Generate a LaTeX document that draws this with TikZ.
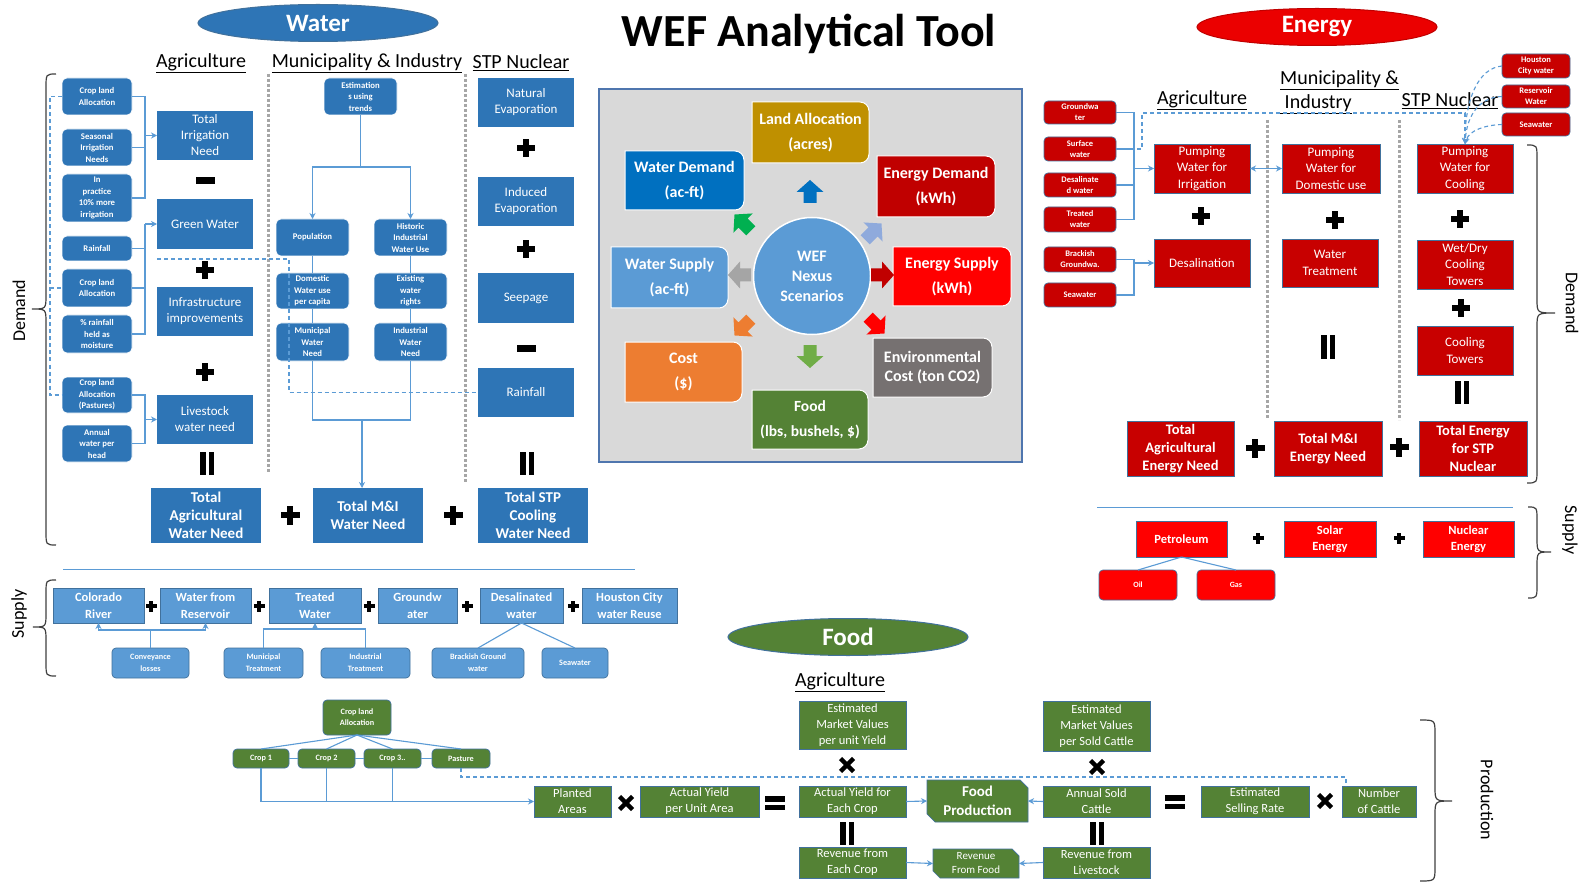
\documentclass[tikz,border=0pt]{standalone}
\usepackage{fontspec}
\setmainfont{Carlito}
\usetikzlibrary{shapes.geometric,arrows.meta,calc}
\definecolor{wblue}{HTML}{2E75B6}
\definecolor{wlight}{HTML}{5B9BD5}
\definecolor{bord}{HTML}{41719C}
\definecolor{edark}{HTML}{C80000}
\definecolor{ered}{HTML}{FF0000}
\definecolor{cgreen}{HTML}{548235}
\definecolor{lnblue}{HTML}{5B9BD5}
\definecolor{dotgray}{HTML}{A6A6A6}
\definecolor{bracegray}{HTML}{404040}
\definecolor{wefgray}{HTML}{D9D9D9}
\definecolor{wefborder}{HTML}{4F76AE}
\definecolor{cgold}{HTML}{BF9000}
\definecolor{cwd}{HTML}{0070C0}
\definecolor{ced}{HTML}{C00000}
\definecolor{corange}{HTML}{ED7D31}
\definecolor{cenv}{HTML}{767171}
\definecolor{cgrn}{HTML}{00B050}
\definecolor{clblue}{HTML}{8FAADC}
\definecolor{cgray}{HTML}{A5A5A5}
\definecolor{clgreen}{HTML}{70AD47}
\newcommand\fsz[2]{\fontsize{#1}{#2}\selectfont}
\newcommand\mybox[7]{\node[#1, minimum width={(#5)-(#3)}, minimum height={(#6)-(#4)}] (#2) at ({(#3+#5)/2},{(#4+#6)/2}) {#7};}
\newcommand\wefbox[8]{%
  \filldraw[fill=#6, draw=white, line width=1pt] (#2,#3) -- ({#4-9},#3) arc[start angle=270, end angle=360, radius=9] -- (#4,{#5-9}) arc[start angle=0, end angle=90, radius=9] -- (#2,#5) -- cycle;
  \mybox{bxbase, font=\bfseries#8}{#1}{#2}{#3}{#4}{#5}{#7}}
\newcommand\barrow[4]{\fill[#4, shift={(#1,#2)}, rotate=#3] (-11,-6.5) -- (0,-6.5) -- (0,-13.5) -- (12,0) -- (0,13.5) -- (0,6.5) -- (-11,6.5) -- cycle;}
\newcommand\opplus[3]{\fill[black] ({#1-#3},{#2-#3*0.34}) rectangle ({#1+#3},{#2+#3*0.34}); \fill[black] ({#1-#3*0.34},{#2-#3}) rectangle ({#1+#3*0.34},{#2+#3});}
\newcommand\opminus[2]{\fill[black] ({#1-9.5},{#2-3.5}) rectangle ({#1+9.5},{#2+3.5});}
\newcommand\oppar[2]{\fill[black] ({#1-7},{#2-11.5}) rectangle ({#1-1.5},{#2+11.5}); \fill[black] ({#1+1.5},{#2-11.5}) rectangle ({#1+7},{#2+11.5});}
\newcommand\opeq[2]{\fill[black] ({#1-10},{#2-7}) rectangle ({#1+10},{#2-1.5}); \fill[black] ({#1-10},{#2+1.5}) rectangle ({#1+10},{#2+7});}
\newcommand\optimes[2]{\draw[black, line width=4.5pt] ({#1-6.5},{#2-6.5}) -- ({#1+6.5},{#2+6.5}) ({#1-6.5},{#2+6.5}) -- ({#1+6.5},{#2-6.5});}
\newcommand\vbrace[6]{\draw[brc] (#1,#4) .. controls (#2,#4) .. (#2,{#4+14}) -- (#2,{#5-14}) .. controls (#2,#5) .. (#3,#5) .. controls (#2,#5) .. (#2,{#5+14}) -- (#2,{#6-14}) .. controls (#2,#6) .. (#1,#6);}
\tikzset{
 bxbase/.style={text=white, align=center, inner sep=0pt, outer sep=0pt, rectangle},
 wsm/.style={bxbase, rounded corners=5pt, fill=wblue, draw=white, line width=0.6pt, font=\bfseries\fsz{8.7}{11.5}},
 wmd/.style={bxbase, fill=wblue, font=\fsz{13}{16}},
 wtot/.style={bxbase, fill=wblue, font=\bfseries\fsz{15}{18}},
 wsup/.style={bxbase, fill=wlight, draw=bord, line width=0.7pt, font=\bfseries\fsz{12.5}{17}},
 wsupsm/.style={bxbase, rounded corners=4pt, fill=wlight, draw=bord, line width=0.7pt, font=\bfseries\fsz{8.2}{12}},
 esm/.style={bxbase, rounded corners=4pt, fill=edark, draw=bord, line width=0.7pt, font=\bfseries\fsz{8.5}{11}},
 emd/.style={bxbase, fill=edark, draw=bord, line width=0.7pt, font=\fsz{13}{16.5}},
 etot/.style={bxbase, fill=edark, draw=bord, line width=0.7pt, font=\bfseries\fsz{14.5}{18}},
 esup/.style={bxbase, fill=ered, draw=bord, line width=0.7pt, font=\bfseries\fsz{12.5}{16}},
 esupsm/.style={bxbase, rounded corners=4pt, fill=ered, draw=bord, line width=0.7pt, font=\bfseries\fsz{8}{10}},
 fsm/.style={bxbase, rounded corners=4pt, fill=cgreen, draw=bord, line width=0.7pt, font=\bfseries\fsz{8.2}{11}},
 fmd/.style={bxbase, fill=cgreen, draw=bord, line width=0.7pt, font=\fsz{12.5}{16}},
 hdr/.style={font=\fsz{20}{24}, inner sep=0pt},
 lbl/.style={font=\fsz{18}{20}, inner sep=0pt},
 conn/.style={draw=lnblue, line width=1.1pt},
 arr/.style={conn, -{Stealth[length=6pt,width=6pt]}},
 dconn/.style={draw=lnblue, line width=1.1pt, dash pattern=on 4pt off 3pt},
 dotl/.style={draw=dotgray, line width=3pt, dash pattern=on 3pt off 2pt},
 brc/.style={draw=bracegray, line width=1.2pt},
 ell/.style={ellipse, minimum width=240pt, minimum height=37pt, inner sep=0pt, text=white, font=\bfseries\fsz{25}{28}, line width=1pt},
}
\begin{document}
\begin{tikzpicture}[x=1pt,y=-1pt]
\useasboundingbox (0,0) rectangle (1585,885);
\fill[white] (0,0) rectangle (1585,885);

% ---------- titles ----------
\node[font=\bfseries\fsz{46}{50}, inner sep=0pt] (title) at (809,34) {WEF Analytical Tool};
\node[ell, fill=wblue, draw=bord] (wat) at (318,23) {Water};
\node[ell, fill=ered!92!black, draw=ced] (ene) at (1317,27) {Energy};
\node[ell, fill=cgreen, draw=bord] (foo) at (848,637) {Food};

% ---------- WATER demand ----------
\node[hdr] (h1) at (201,63) {\underline{Agriculture}};
\node[hdr] (h2) at (367,63) {\underline{Municipality \& Industry}};
\node[hdr] (h3) at (521,63) {\underline{STP Nuclear}};

\draw[dotl] (268,74) -- (268,473);
\draw[dotl] (465,74) -- (465,483);

\mybox{wsm}{cla1}{62}{78}{132}{115}{Crop land\\Allocation}
\mybox{wsm}{sin}{62}{129}{132}{166}{Seasonal\\Irrigation\\Needs}
\mybox{wsm}{ipr}{62}{174}{132}{222}{In\\practice\\10\% more\\irrigation}
\mybox{wsm}{rnf}{62}{236}{132}{261}{Rainfall}
\mybox{wsm}{cla2}{62}{269}{132}{307}{Crop land\\Allocation}
\mybox{wsm}{rhm}{62}{315}{132}{353}{\% rainfall\\held as\\moisture}
\mybox{wsm}{clp}{62}{377}{132}{413}{Crop land\\Allocation\\(Pastures)}
\mybox{wsm}{awh}{62}{425}{132}{462}{Annual\\water per\\head}
\mybox{wmd}{tin}{157}{111}{253}{160}{Total\\Irrigation\\Need}
\mybox{wmd}{gw}{157}{199}{253}{249}{Green Water}
\mybox{wmd}{inf}{157}{287}{253}{336}{Infrastructure\\improvements}
\mybox{wmd}{lw}{157}{395}{253}{444}{Livestock\\water need}
\opminus{205}{181}
\opplus{205}{270}{9}
\opplus{205}{372}{9}
\oppar{207}{463}

\coordinate (b1) at (145,135.5);
\draw[conn] (cla1.east) -| (b1);
\draw[conn] (sin.east) -| (b1);
\draw[conn] (ipr.east) -| (b1);
\draw[arr] (b1) -- (tin.west);
\coordinate (b2) at (145,224);
\draw[conn] (rnf.east) -| (b2);
\draw[conn] (cla2.east) -| (b2);
\draw[conn] (rhm.east) -| (b2);
\draw[arr] (b2) -- (gw.west);
\coordinate (b3) at (145,419.5);
\draw[conn] (clp.east) -| (b3);
\draw[conn] (awh.east) -| (b3);
\draw[arr] (b3) -- (lw.west);
\coordinate (dl1) at (50,288);
\draw[dconn] (cla1.west) -| (50,395) -- (clp.west);
\draw[dconn] (dl1) -- (cla2.west);

\mybox{wsm}{est}{324}{78}{397}{115}{Estimation\\s using\\trends}
\mybox{wsm}{pop}{276}{219}{349}{256}{Population}
\mybox{wsm}{hiw}{374}{219}{447}{256}{Historic\\Industrial\\Water Use}
\mybox{wsm}{dom}{276}{273}{349}{309}{Domestic\\Water use\\per capita}
\mybox{wsm}{ewr}{374}{273}{447}{309}{Existing\\water\\rights}
\mybox{wsm}{mwn}{276}{323}{349}{361}{Municipal\\Water\\Need}
\mybox{wsm}{iwn}{374}{323}{447}{361}{Industrial\\Water\\Need}

\mybox{wmd}{nev}{478}{78}{574}{127}{Natural\\Evaporation}
\mybox{wmd}{iev}{478}{177}{574}{226}{Induced\\Evaporation}
\mybox{wmd}{see}{478}{273}{574}{323}{Seepage}
\mybox{wmd}{rns}{478}{368}{574}{417}{Rainfall}
\opplus{526}{148}{9}
\opplus{526}{249}{9}
\opminus{526}{348}
\oppar{527}{463}

\mybox{wtot}{tag}{151}{488}{261}{543}{Total\\Agricultural\\Water Need}
\mybox{wtot}{tmi}{313}{488}{423}{543}{Total M\&I\\Water Need}
\mybox{wtot}{tstp}{478}{488}{588}{543}{Total STP\\Cooling\\Water Need}
\opplus{290}{515}{9.5}
\opplus{453}{515}{9.5}

\coordinate (ej) at (360.5,167);
\draw[conn] (est.south) -- (ej);
\draw[arr] (ej) -| (pop.north);
\draw[arr] (ej) -| (hiw.north);
\draw[conn] (pop.south) -- (dom.north);
\draw[conn] (dom.south) -- (mwn.north);
\draw[conn] (hiw.south) -- (ewr.north);
\draw[conn] (ewr.south) -- (iwn.north);
\coordinate (mj) at (362,420);
\draw[conn] (mwn.south) |- (mj);
\draw[conn] (iwn.south) |- (mj);
\draw[arr] (mj) -- (mj |- tmi.north);
\coordinate (dj1) at (157,259);
\draw[dconn] (dj1) -| (289,392.5) -- (rns.west);

% ---------- WATER supply ----------
\draw[draw=lnblue, line width=1pt] (63,569) -- (635,569);
\mybox{wsup}{col}{53}{588}{144}{623}{Colorado\\River}
\mybox{wsup}{res}{160}{588}{251}{623}{Water from\\Reservoir}
\mybox{wsup}{trw}{269}{588}{361}{623}{Treated\\Water}
\mybox{wsup}{gdw}{378}{588}{457}{623}{Groundw\\ater}
\mybox{wsup}{dsw}{480}{588}{563}{623}{Desalinated\\water}
\mybox{wsup}{hcr}{582}{588}{677}{623}{Houston City\\water Reuse}
\opplus{151}{606}{5.5}
\opplus{259}{606}{5.5}
\opplus{369}{606}{5.5}
\opplus{467}{606}{5.5}
\opplus{573}{606}{5.5}
\mybox{wsupsm}{cvl}{112}{648}{189}{678}{Conveyance\\losses}
\mybox{wsupsm}{mtr}{224}{648}{303}{678}{Municipal\\Treatment}
\mybox{wsupsm}{itr}{321}{648}{410}{678}{Industrial\\Treatment}
\mybox{wsupsm}{bgw}{432}{648}{524}{678}{Brackish Ground\\water}
\mybox{wsupsm}{sea}{542}{648}{608}{678}{Seawater}
\coordinate (cj) at (150.5,630);
\draw[conn] (cvl.north) -- (cj);
\draw[arr] (cj) -| (col.south);
\draw[arr] (cj) -| (res.south);
\coordinate (tj) at (315,629);
\draw[conn] (mtr.north) |- (tj);
\draw[conn] (itr.north) |- (tj);
\draw[arr] (tj) -- (trw.south);
\draw[conn] (dsw.south) -- (bgw.north);
\draw[conn] (dsw.south) -- (sea.north);

\vbrace{56}{46}{32}{74}{309}{545}
\node[lbl, rotate=90] (ldem) at (19,311) {Demand};
\vbrace{56}{46}{33}{580}{627}{676}
\node[lbl, rotate=90] (lsup) at (19,614) {Supply};

% ---------- WEF centre ----------
\mybox{fill=wefgray, draw=wefborder, line width=2pt, inner sep=0pt}{wefbg}{599}{89}{1022}{462}{}
\wefbox{la}{752}{102}{869}{163}{cgold}{Land Allocation\\(acres)}{\fsz{16}{25}}
\wefbox{wd}{625}{151}{744}{210}{cwd}{Water Demand\\(ac-ft)}{\fsz{16}{25}}
\wefbox{ed}{877}{156}{995}{217}{ced}{Energy Demand\\(kWh)}{\fsz{16}{25}}
\wefbox{ws}{611}{247}{728}{308}{wlight}{Water Supply\\(ac-ft)}{\fsz{16}{25}}
\wefbox{es}{893}{247}{1011}{306}{ered}{Energy Supply\\(kWh)}{\fsz{16}{25}}
\wefbox{co}{625}{342}{742}{402}{corange}{Cost\\(\$)}{\fsz{16}{25}}
\wefbox{env}{873}{338}{992}{397}{cenv}{Environmental\\Cost (ton CO2)}{\fsz{16}{18.5}}
\wefbox{fd}{752}{390}{868}{449}{cgreen}{Food\\(lbs, bushels, \$)}{\fsz{15.5}{25}}
\node[circle, fill=wlight, draw=white, line width=1.5pt, minimum size=117pt, inner sep=0pt, text=white, align=center, font=\bfseries\fsz{16}{20}] (wef) at (812,276) {WEF\\Nexus\\Scenarios};
\barrow{810}{192}{90}{cwd}
\barrow{743}{223}{135}{cgrn}
\barrow{873}{232}{45}{clblue}
\barrow{740}{275}{180}{cgray}
\barrow{882}{275}{0}{ced}
\barrow{743}{327}{225}{corange}
\barrow{876}{325}{315}{ered}
\barrow{810}{356}{270}{clgreen}

% ---------- ENERGY demand ----------
\node[hdr] (eh1) at (1202,100) {\underline{Agriculture}};
\node[hdr, align=left, anchor=west] (eh2) at (1280,92) {\underline{Municipality \&}\\\underline{\ Industry}};
\node[hdr] (eh3) at (1450,101) {\underline{STP Nuclear}};
\draw[dotl] (1267,120) -- (1267,418);
\draw[dotl] (1399,120) -- (1399,420);

\mybox{esm}{egw}{1044}{101}{1116}{124}{Groundwa\\ter}
\mybox{esm}{esf}{1044}{137}{1116}{161}{Surface\\water}
\mybox{esm}{eds}{1044}{173}{1116}{197}{Desalinate\\d water}
\mybox{esm}{etw}{1044}{207}{1116}{232}{Treated\\water}
\mybox{esm}{ebg}{1044}{247}{1116}{272}{Brackish\\Groundwa.}
\mybox{esm}{esw}{1044}{283}{1116}{307}{Seawater}
\mybox{emd}{pirr}{1154}{144}{1250}{193}{Pumping\\Water for\\Irrigation}
\mybox{emd}{desal}{1154}{239}{1250}{287}{Desalination}
\mybox{emd}{pdom}{1282}{144}{1380}{193}{Pumping\\Water for\\Domestic use}
\mybox{emd}{wtr}{1282}{239}{1378}{287}{Water\\Treatment}
\mybox{emd}{pcool}{1417}{144}{1513}{193}{Pumping\\Water for\\Cooling}
\mybox{emd}{wdct}{1417}{240}{1513}{289}{Wet/Dry\\Cooling\\Towers}
\mybox{emd}{ctw}{1417}{326}{1513}{375}{Cooling\\Towers}
\mybox{esm}{hcw}{1502}{54}{1570}{78}{Houston\\City water}
\mybox{esm}{rsw}{1502}{85}{1570}{108}{Reservoir\\Water}
\mybox{esm}{esw2}{1502}{113}{1570}{136}{Seawater}
\mybox{etot}{tae}{1127}{421}{1234}{476}{Total\\Agricultural\\Energy Need}
\mybox{etot}{tme}{1274}{421}{1382}{476}{Total M\&I\\Energy Need}
\mybox{etot}{tes}{1419}{421}{1527}{476}{Total Energy\\for STP\\Nuclear}
\opplus{1201}{216}{9}
\opplus{1335}{220}{9}
\opplus{1460}{219}{9}
\opplus{1461}{308}{9}
\oppar{1328}{347}
\oppar{1462}{392}
\opplus{1255}{448}{9.5}
\opplus{1399}{447}{9.5}

\coordinate (eb1) at (1134,168.5);
\draw[conn] (egw.east) -| (eb1);
\draw[conn] (esf.east) -| (eb1);
\draw[conn] (eds.east) -| (eb1);
\draw[conn] (etw.east) -| (eb1);
\draw[arr] (eb1) -- (pirr.west);
\coordinate (eb2) at (1134,263);
\draw[conn] (ebg.east) -| (eb2);
\draw[conn] (esw.east) -| (eb2);
\draw[arr] (eb2) -- (desal.west);
\draw[conn, {Stealth[length=6pt,width=6pt]}-{Stealth[length=6pt,width=6pt]}] (pirr.east) -- (pdom.west);
\draw[dconn, -{Stealth[length=6pt,width=6pt]}] (esf.east) -- ++(26,0) |- ($(pcool.north)+(0,-31)$) -- (pcool.north);
\draw[dconn, -{Stealth[length=6pt,width=6pt]}] (hcw.west) .. controls (1478,68) and (1465,100) .. (pcool.north);
\draw[dconn, -{Stealth[length=6pt,width=6pt]}] (rsw.west) .. controls (1482,97) and (1467,112) .. (pcool.north);
\draw[dconn, -{Stealth[length=6pt,width=6pt]}] (esw2.west) .. controls (1486,125) and (1469,130) .. (pcool.north);

\vbrace{1527}{1537}{1555}{145}{313}{483}
\node[lbl, rotate=-90] (rdem) at (1572,303) {Demand};

% ---------- ENERGY supply ----------
\draw[draw=lnblue, line width=1pt] (1097,507) -- (1513,507);
\mybox{esup}{pet}{1136}{521}{1227}{557}{Petroleum}
\mybox{esup}{sol}{1284}{521}{1376}{557}{Solar\\Energy}
\mybox{esup}{nuc}{1423}{521}{1514}{557}{Nuclear\\Energy}
\mybox{esupsm}{oil}{1099}{570}{1177}{600}{Oil}
\mybox{esupsm}{gas}{1197}{570}{1275}{600}{Gas}
\opplus{1258}{538}{5.5}
\opplus{1399}{538}{5.5}
\draw[conn] (pet.south) -- (oil.north);
\draw[conn] (pet.south) -- (gas.north);
\vbrace{1528}{1537}{1551}{507}{552}{598}
\node[lbl, rotate=-90] (rsup) at (1570,530) {Supply};

% ---------- FOOD ----------
\node[hdr] (fh) at (840,682) {\underline{Agriculture}};
\mybox{fsm}{fcl}{323}{700}{391}{735}{Crop land\\Allocation}
\mybox{fsm}{c1}{233}{749}{289}{768}{Crop 1}
\mybox{fsm}{c2}{298}{749}{355}{768}{Crop 2}
\mybox{fsm}{c3}{364}{749}{421}{768}{Crop 3..}
\mybox{fsm}{pst}{432}{749}{490}{768}{Pasture}
\draw[conn] (fcl.south) -- (c1.north);
\draw[conn] (fcl.south) -- (c2.north);
\draw[conn] (fcl.south) -- (c3.north);
\draw[conn] (fcl.south) -- (pst.north);
\draw[conn] (c1.east) -- (c2.west);
\draw[conn] (c2.east) -- (c3.west);
\draw[conn] (c3.east) -- (pst.west);

\mybox{fmd}{pla}{534}{786}{611}{817}{Planted\\Areas}
\mybox{fmd}{ayu}{640}{786}{759}{817}{Actual Yield\\per Unit Area}
\mybox{fmd}{emv}{799}{701}{906}{749}{Estimated\\Market Values\\per unit Yield}
\mybox{fmd}{aye}{799}{786}{906}{817}{Actual Yield for\\Each Crop}
\mybox{fmd}{rec}{799}{847}{906}{878}{Revenue from\\Each Crop}
\filldraw[fill=cgreen, draw=bord, line width=0.7pt] (927,780) -- (1020,780) -- (1028,788) -- (1028,822) -- (935,822) -- (927,814) -- cycle;
\mybox{bxbase, font=\bfseries\fsz{15}{19}}{fp}{927}{780}{1028}{822}{Food\\Production}
\filldraw[fill=cgreen, draw=bord, line width=0.7pt] (933,849) -- (1012,849) -- (1019,856) -- (1019,878) -- (940,878) -- (933,871) -- cycle;
\mybox{bxbase, font=\fsz{11}{14}}{rff}{933}{849}{1019}{878}{Revenue\\From Food}
\mybox{fmd}{emc}{1043}{701}{1150}{751}{Estimated\\Market Values\\per Sold Cattle}
\mybox{fmd}{asc}{1043}{786}{1150}{817}{Annual Sold\\Cattle}
\mybox{fmd}{rlv}{1043}{847}{1150}{878}{Revenue from\\Livestock}
\mybox{fmd}{esr}{1201}{786}{1309}{817}{Estimated\\Selling Rate}
\mybox{fmd}{noc}{1342}{786}{1416}{817}{Number\\of Cattle}
\optimes{626}{803}
\opeq{775}{803}
\optimes{847}{765}
\oppar{847}{833}
\optimes{1097}{767}
\oppar{1097}{833}
\opeq{1175}{802}
\optimes{1325}{801}

\draw[arr] (c1.south) |- (pla.west);
\draw[conn] (c2.south) -- (c2.south |- pla.west);
\draw[conn] (c3.south) -- (c3.south |- pla.west);
\draw[dconn] (pst.south) -- ++(0,9) -| ($(noc.north west)+(4,0)$);
\draw[arr] (aye.east) -- (fp.west);
\draw[arr] (asc.west) -- (fp.east);
\draw[arr] (rec.east) -- (rff.west);
\draw[arr] (rlv.west) -- (rff.east);

\vbrace{1420}{1435}{1452}{720}{801}{881}
\node[lbl, rotate=-90] (rprod) at (1487,800) {Production};
\end{tikzpicture}
\end{document}
